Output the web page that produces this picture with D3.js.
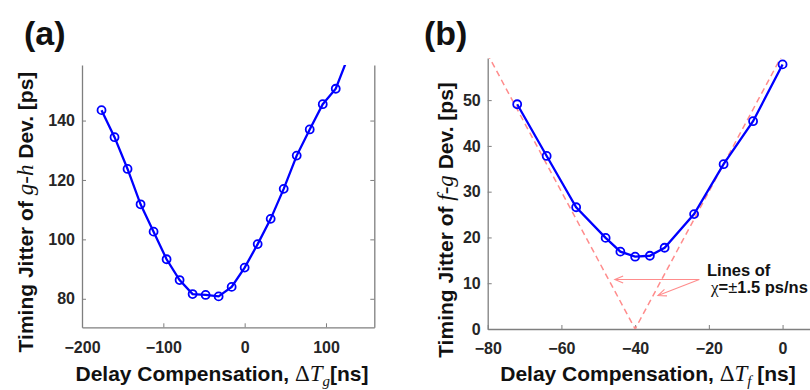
<!DOCTYPE html>
<html>
<head>
<meta charset="utf-8">
<script src="https://cdn.jsdelivr.net/npm/d3@7"></script>
<style>
  body { margin: 0; background: #fff; }
  svg { display: block; }
  text { font-family: "Liberation Sans", Arial, sans-serif; }
  .math { font-family: "Liberation Serif", "Times New Roman", serif; font-style: italic; font-weight: normal; }
</style>
</head>
<body>
<script>
// ---- data ----
// panel (a): jitter of g-h deviation vs delay compensation
const delayA = [-176, -160, -144, -128, -112, -96, -80, -64, -48, -32, -16, 0, 16, 32, 48, 64, 80, 96, 112, 128];
const jitterA = [143.5, 134.4, 123.7, 111.8, 102.6, 93.3, 86.3, 81.6, 81.3, 80.8, 84.0, 90.5, 98.4, 106.9, 117.0, 128.2, 137.0, 145.5, 150.7, 162];
const ticksXA = [-200, -100, 0, 100];
const ticksYA = [80, 100, 120, 140];

// panel (b): jitter of f-g deviation vs delay compensation
const delayB = [-72, -64, -56, -48, -44, -40, -36, -32, -24, -16, -8, 0];
const jitterB = [49.1, 37.8, 26.6, 19.9, 16.9, 15.8, 16.0, 17.75, 25.1, 36.0, 45.4, 57.8];
const ticksXB = [-80, -60, -40, -20, 0];
const ticksYB = [0, 10, 20, 30, 40, 50];

// reference lines chi = +-1.5 ps/ns centred on -40 ns
const chiSlope = 1.5;
const chiCentre = -40;
const chiLineX = [-84, -40, 4];

const width = 810, height = 390;
const blue = "#0000ff";
const axisGrey = "#7f7f7f";
const labelCol = "#262626";
const pink = "#ff8c8c";

const svg = d3.select("body").append("svg")
  .attr("width", width)
  .attr("height", height);

const defs = svg.append("defs");

// generic panel drawer
function drawPanel(opts) {
  const x = d3.scaleLinear().domain(opts.xDomain).range(opts.xRange);
  const y = d3.scaleLinear().domain(opts.yDomain).range(opts.yRange);
  const g = svg.append("g");

  defs.append("clipPath").attr("id", opts.id + "-clip")
    .append("rect")
    .attr("x", opts.xRange[0]).attr("y", opts.yRange[1])
    .attr("width", opts.xRange[1] - opts.xRange[0])
    .attr("height", opts.yRange[0] - opts.yRange[1]);

  // bottom axis, ticks pointing inwards
  const xAxis = g.append("g")
    .attr("transform", `translate(0,${opts.yRange[0]})`)
    .call(d3.axisBottom(x).tickValues(opts.ticksX).tickSizeInner(-4).tickSizeOuter(0).tickPadding(14));
  // left axis
  const yAxis = g.append("g")
    .attr("transform", `translate(${opts.xRange[0]},0)`)
    .call(d3.axisLeft(y).tickValues(opts.ticksY).tickSizeInner(-4).tickSizeOuter(0).tickPadding(7));

  [xAxis, yAxis].forEach(a => {
    a.select(".domain").attr("stroke", axisGrey).attr("stroke-width", 1.3);
    a.selectAll(".tick line").attr("stroke", axisGrey);
    a.selectAll(".tick text")
      .attr("fill", labelCol)
      .attr("font-size", 16)
      .attr("font-weight", "bold")
      .attr("font-family", "Liberation Sans, Arial, sans-serif");
  });

  if (opts.rightAxis) {
    const r = g.append("g")
      .attr("transform", `translate(${opts.xRange[1]},0)`)
      .call(d3.axisRight(y).tickValues(opts.ticksY).tickSizeInner(-4).tickSizeOuter(0).tickFormat(""));
    r.select(".domain").attr("stroke", axisGrey).attr("stroke-width", 1.3);
    r.selectAll(".tick line").attr("stroke", axisGrey);
  }

  const plot = g.append("g").attr("clip-path", `url(#${opts.id}-clip)`);
  return { x, y, g, plot };
}

function drawSeries(p, xs, ys) {
  const pts = xs.map((d, i) => [d, ys[i]]);
  p.plot.append("path")
    .datum(pts)
    .attr("d", d3.line().x(d => p.x(d[0])).y(d => p.y(d[1])))
    .attr("fill", "none")
    .attr("stroke", blue)
    .attr("stroke-width", 2.3);
  p.plot.selectAll("circle.m")
    .data(pts)
    .enter().append("circle")
    .attr("class", "m")
    .attr("cx", d => p.x(d[0]))
    .attr("cy", d => p.y(d[1]))
    .attr("r", 4)
    .attr("fill", "none")
    .attr("stroke", blue)
    .attr("stroke-width", 1.8);
}

// ---- panel (a) ----
const pa = drawPanel({
  id: "pa",
  xDomain: [-200, 159.4], xRange: [82, 374.3],
  yDomain: [70.4, 158.7], yRange: [327.3, 65],
  ticksX: ticksXA, ticksY: ticksYA, rightAxis: true
});
drawSeries(pa, delayA, jitterA);

// ---- panel (b) ----
const pb = drawPanel({
  id: "pb",
  xDomain: [-80, 8.8], xRange: [487.7, 815],
  yDomain: [0, 59.2], yRange: [329, 58],
  ticksX: ticksXB, ticksY: ticksYB, rightAxis: false
});

// dashed chi lines
pb.plot.append("path")
  .datum(chiLineX.map(v => [v, chiSlope * Math.abs(v - chiCentre)]))
  .attr("d", d3.line().x(d => pb.x(d[0])).y(d => pb.y(d[1])))
  .attr("fill", "none")
  .attr("stroke", pink)
  .attr("stroke-width", 1.5)
  .attr("stroke-dasharray", "6,4");

drawSeries(pb, delayB, jitterB);

// annotation arrows (data coords)
const arrowTail = [-22.6, 10.8];
const arrowTips = [[-45.5, 10.8], [-33.8, 7.3]];
arrowTips.forEach(tip => {
  const x0 = pb.x(arrowTail[0]), y0 = pb.y(arrowTail[1]);
  const x1 = pb.x(tip[0]), y1 = pb.y(tip[1]);
  const ang = Math.atan2(y0 - y1, x0 - x1);
  const len = 9, spread = 0.4;
  pb.g.append("line")
    .attr("x1", x0).attr("y1", y0).attr("x2", x1).attr("y2", y1)
    .attr("stroke", pink).attr("stroke-width", 1.1);
  pb.g.append("path")
    .attr("d", `M${x1 + len * Math.cos(ang + spread)},${y1 + len * Math.sin(ang + spread)}L${x1},${y1}L${x1 + len * Math.cos(ang - spread)},${y1 + len * Math.sin(ang - spread)}`)
    .attr("fill", "none").attr("stroke", pink).attr("stroke-width", 1.1);
});

pb.g.append("text")
  .attr("x", 707).attr("y", 276)
  .attr("font-size", 16.5).attr("font-weight", "bold").attr("fill", "#111")
  .text("Lines of");
const chiText = pb.g.append("text")
  .attr("x", 711).attr("y", 293)
  .attr("font-size", 16.5).attr("font-weight", "bold").attr("fill", "#111");
chiText.append("tspan").attr("font-weight", "normal").attr("font-family", "Liberation Serif, serif").attr("font-size", 17).text("χ");
chiText.append("tspan").text("=");
chiText.append("tspan").attr("font-weight", "normal").text("±");
chiText.append("tspan").text("1.5 ps/ns");

// ---- panel letters ----
svg.append("text").attr("x", 24).attr("y", 45)
  .attr("font-size", 34).attr("font-weight", "bold").attr("fill", "#111").text("(a)");
svg.append("text").attr("x", 424).attr("y", 45)
  .attr("font-size", 34).attr("font-weight", "bold").attr("fill", "#111").text("(b)");

// ---- axis titles ----
function yTitle(cx, cy, pair) {
  const t = svg.append("text")
    .attr("transform", `translate(${cx},${cy}) rotate(-90)`)
    .attr("text-anchor", "middle")
    .attr("font-size", 21).attr("font-weight", "bold").attr("fill", "#111");
  t.append("tspan").text("Timing Jitter of ");
  t.append("tspan").attr("class", "math").attr("font-size", 23).text(pair);
  t.append("tspan").text(" Dev. [ps]");
}
yTitle(33, 212, "g-h");
yTitle(453, 220, "f-g");

function xTitle(cx, cy, sub, gap) {
  const t = svg.append("text")
    .attr("x", cx).attr("y", cy)
    .attr("text-anchor", "middle")
    .attr("font-size", 21).attr("font-weight", "bold").attr("fill", "#111");
  t.append("tspan").text("Delay Compensation, ");
  t.append("tspan").attr("font-family", "Liberation Serif, serif").attr("font-weight", "normal").attr("font-size", 23).text("Δ");
  t.append("tspan").attr("class", "math").attr("font-size", 23).text("T");
  t.append("tspan").attr("class", "math").attr("font-size", 15).attr("dy", 5).text(sub);
  t.append("tspan").attr("dy", -5).text(gap + "[ns]");
}
xTitle(222, 381, "g", "");
xTitle(648, 381, "f", " ");
</script>
</body>
</html>
